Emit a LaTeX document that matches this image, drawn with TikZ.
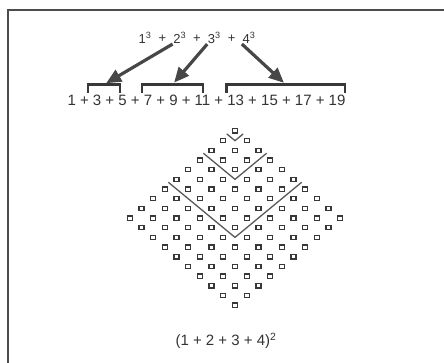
\documentclass[tikz,border=0pt]{standalone}
\usepackage{fontspec}
\setmainfont{Liberation Sans}
\usetikzlibrary{arrows.meta}
\begin{document}
\begin{tikzpicture}[x=1pt,y=-1pt,
  term/.style={inner sep=0.5pt,text=black!80,font=\fontsize{13}{15}\selectfont},
  bigarrow/.style={-{Triangle[length=15pt,width=13pt]},line width=3.2pt,draw=black!72,shorten >=2.5pt},
  bracket/.style={line width=2.4pt,draw=black!78},
  dot/.style={draw=black!78,fill=white,line width=1.3pt,minimum width=5pt,minimum height=4.3pt,inner sep=0pt},
  gnomon/.style={line width=1.3pt,draw=black!65}]
  \useasboundingbox (0,0) rectangle (444,363);
  % frame
  \draw[line width=2pt,black!70] (8,363) -- (8,10.5) -- (444,10.5);
  % cubes
  \foreach \x/\n in {145/1,179.7/2,214.3/3,249/4}
    \node[term] (t\n) at (\x,38) {\n\textsuperscript{3}};
  \foreach \x/\n in {162.3/1,197/2,231.7/3}
    \node[term] (p\n) at (\x,39) {+};
  % odd numbers
  \node[term,font=\fontsize{15}{17}\selectfont] (odd) at (206.5,100)
    {1 + 3 + 5 + 7 + 9 + 11 + 13 + 15 + 17 + 19};
  \foreach \l/\r/\n in {88/120/1,142/203/2,226.5/345/3} {
    \draw[bracket] (\l,93) |- (\r,84.5) -- (\r,93);
    \coordinate (b\n) at ({(\l+\r)/2},84.5);
  }
  \draw[bigarrow] (t2.south west) -- (b1);
  \draw[bigarrow] (t3.south west) -- (b2);
  \draw[bigarrow] (t4.south west) -- (b3);
  % the square, turned
  \begin{scope}[shift={(235,131)},x={(11.7pt,-9.67pt)},y={(-11.7pt,-9.67pt)}]
    \foreach \i in {0,...,9}
      \foreach \j in {0,...,9}
        \node[dot] (d\i\j) at (\i,\j) {};
    \foreach \k in {1,3,6}
      \draw[gnomon] (-0.2,{\k-0.5}) -- ({\k-0.5},{\k-0.5}) -- ({\k-0.5},-0.2);
  \end{scope}
  \node[term,font=\fontsize{15}{17}\selectfont] (sq) at (226,341)
    {(1 + 2 + 3 + 4)\textsuperscript{2}};
\end{tikzpicture}
\end{document}
